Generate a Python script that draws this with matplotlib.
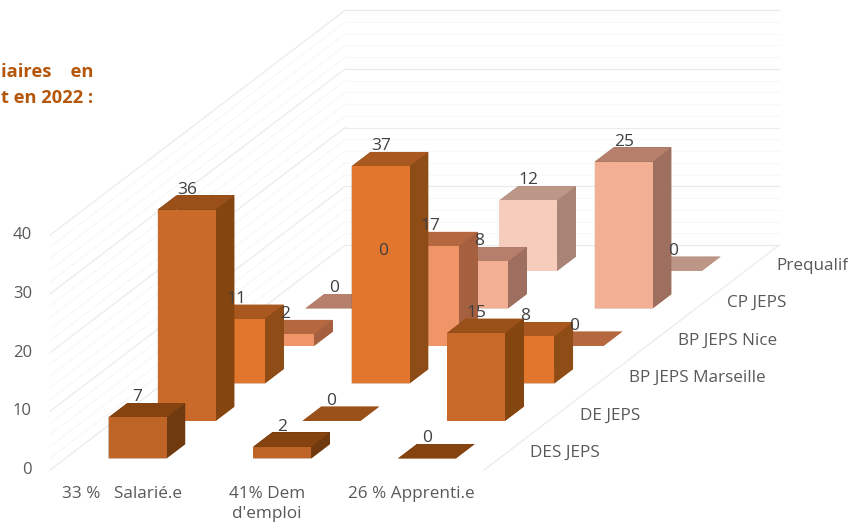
import numpy as np
import matplotlib
matplotlib.use('Agg')
import matplotlib.pyplot as plt
from mpl_toolkits.mplot3d import proj3d

categories = ['33 %   Salarié.e', "41% Dem\nd'emploi", '26 % Apprenti.e']
series_names = ['DES JEPS', 'DE JEPS', 'BP JEPS Marseille', 'BP JEPS Nice', 'CP JEPS', 'Prequalif']
z_ticks = [0, 10, 20, 30, 40]

des_jeps = [7, 2, 0]
de_jeps = [36, 0, 15]
bp_marseille = [11, 37, 8]
bp_nice = [2, 17, 0]
cp_jeps = [0, 8, 25]
prequalif = [0, 12, 0]

front_colors = ['#BF6427', '#C9692A', '#E2762C', '#F09568', '#F2AF93', '#F6CCBC']
top_colors = ['#84430F', '#9A5019', '#A9591F', '#B5683F', '#B57F6C', '#BC9788']
side_colors = ['#703A10', '#844511', '#8E4C17', '#A5603F', '#9E6F5E', '#A88476']

WIDTH, HEIGHT = 848, 524
plt.rcParams['font.family'] = ['Open Sans', 'DejaVu Sans']

fig = plt.figure(figsize=(WIDTH / 100, HEIGHT / 100), dpi=100)
# axes bigger than the figure: mplot3d forces a square box and clips to it
ax = fig.add_axes([0, (1 - WIDTH / HEIGHT) / 2, 1, WIDTH / HEIGHT], projection='3d')
ax.set_axis_off()
ax.set_proj_type('ortho')  # lines get clipped away otherwise
ax.apply_aspect()


def oblique_proj():
    # excel style right angle axes, pixels per unit on each axis
    a = ax.transData.inverted().transform((0, 0))
    b = ax.transData.inverted().transform((1, 1)) - a
    return np.array([
        [b[0] * 144.7, b[0] * 49.2, 0, a[0] + b[0] * 50],
        [0, b[1] * 37.5, b[1] * 5.87, a[1] + b[1] * (HEIGHT - 470)],
        [-0.0001, 0.1, -0.0001, 0],
        [0, 0, 0, 1],
    ])


ax.get_proj = oblique_proj


def label(x, y, z, s, **kwargs):
    tx, ty, _ = proj3d.proj_transform(x, y, z, oblique_proj())
    ax.text2D(tx, ty, s, transform=ax.transData, **kwargs)


# walls
for z in range(0, 41, 2):
    color = '#EBEBEB' if z % 10 == 0 else '#F8F8F8'
    ax.plot([0, 0], [0, 6], [z, z], color=color, lw=0.9, zorder=1)
    ax.plot([0, 3], [6, 6], [z, z], color=color, lw=0.9, zorder=1)
ax.plot([3, 3], [0, 6], [0, 0], color='#EBEBEB', lw=0.9, zorder=1)

# bars
rows = [des_jeps, de_jeps, bp_marseille, bp_nice, cp_jeps, prequalif]
bar_w = 0.4
bar_d = 0.38
xs, ys, heights, colors = [], [], [], []
for j, row in enumerate(rows):
    for i, value in enumerate(row):
        xs.append(i + (1 - bar_w) / 2)
        ys.append(j + (1 - bar_d) / 2)
        heights.append(value)
        # face order of bar3d: -z, +z, -y, +y, -x, +x
        colors += [top_colors[j], top_colors[j], front_colors[j],
                   side_colors[j], side_colors[j], side_colors[j]]
ax.bar3d(xs, ys, np.zeros(len(xs)), bar_w, bar_d, heights, color=colors,
         shade=False, edgecolor='none')

# value labels sit above the front face
for x, y, value in zip(xs, ys, heights):
    label(x + bar_w / 2, y, value + 3.4, str(value), ha='center', va='center',
          fontsize=12.5, color='#404040', zorder=1000)

for z in z_ticks:
    label(-0.125, 0, z, str(z), ha='right', va='center', fontsize=12, color='#595959')

for i, name in enumerate(categories):
    label(i + 0.5, 0, -2.8, name, ha='center', va='top', fontsize=12.3, color='#595959',
          linespacing=1.3)

for j, name in enumerate(series_names):
    label(3.15, j + 0.5, -0.3, name, ha='left', va='center', fontsize=12.3, color='#595959')

fig.text(93 / WIDTH, 1 - 72 / HEIGHT, 'iaires    en', ha='right', va='center',
         fontsize=13.2, fontweight='bold', color='#B5570B')
fig.text(93 / WIDTH, 1 - 98 / HEIGHT, 't en 2022 :', ha='right', va='center',
         fontsize=13.2, fontweight='bold', color='#B5570B')

fig.savefig('out.png', dpi=100)
